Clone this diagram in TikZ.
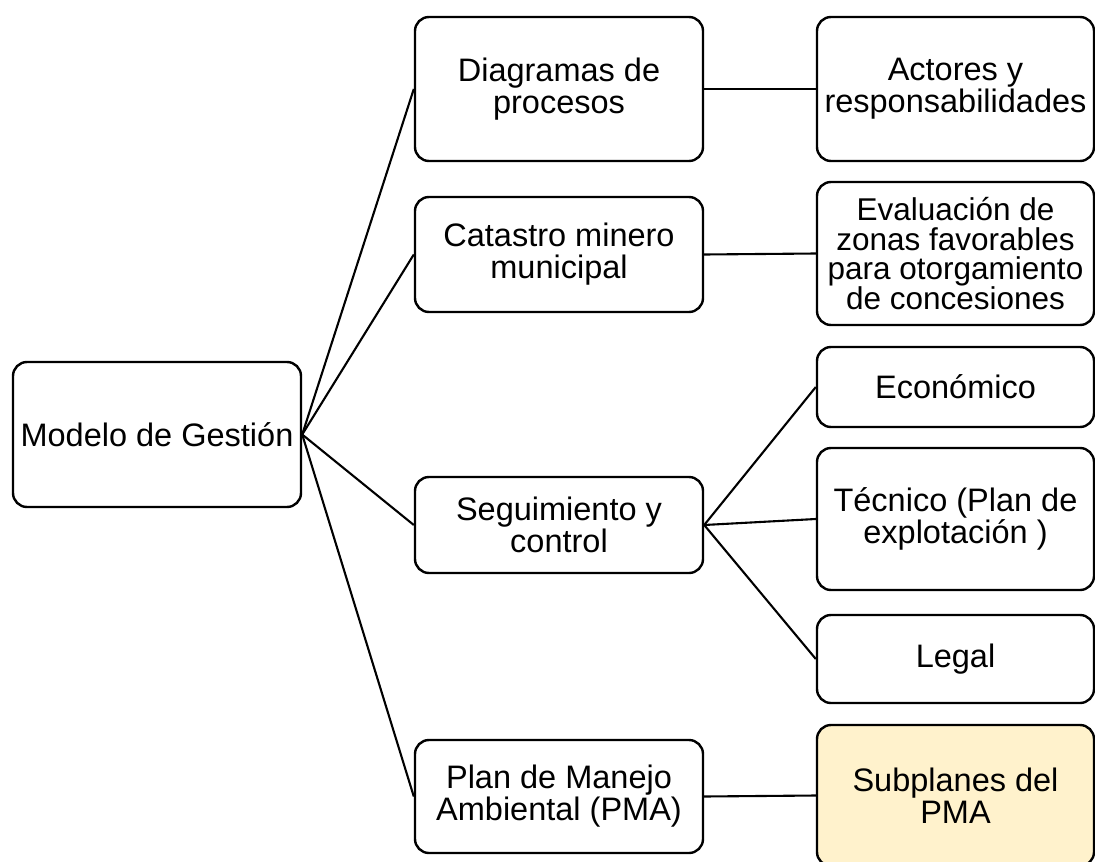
\documentclass[tikz,border=0pt]{standalone}
\usepackage{fontspec}
\setmainfont{Liberation Sans}
\definecolor{subfill}{HTML}{FFF2CC}
\begin{document}
\begin{tikzpicture}[x=1pt,y=-1pt,
  box/.style={draw=black,line width=2.4pt,rounded corners=14pt,inner sep=0pt,
    align=center,font=\fontsize{32.5}{32}\selectfont},
  link/.style={draw=black,line width=2.1pt}]
\useasboundingbox (0,0) rectangle (1095,862);
\node[box,minimum width=288pt,minimum height=145pt] (mg) at (157,434.5) {Modelo de Gestión};
\node[box,minimum width=288pt,minimum height=144pt] (dp) at (559,89) {Diagramas de\\procesos};
\node[box,minimum width=288pt,minimum height=115pt] (cm) at (559,254.5) {Catastro minero\\municipal};
\node[box,minimum width=288pt,minimum height=96pt] (sc) at (559,525) {Seguimiento y\\control};
\node[box,minimum width=288pt,minimum height=113pt] (pma) at (559,796.5) {Plan de Manejo\\Ambiental (PMA)};
\node[box,minimum width=277pt,minimum height=144pt] (ar) at (955.5,89) {Actores y\\responsabilidades};
\node[box,minimum width=277pt,minimum height=143pt,font=\fontsize{31.5}{29.5}\selectfont] (ev) at (955.5,253.5) {Evaluación de\\zonas favorables\\para otorgamiento\\de concesiones};
\node[box,minimum width=277pt,minimum height=80pt] (ec) at (955.5,387) {Económico};
\node[box,minimum width=277pt,minimum height=142pt] (te) at (955.5,519) {Técnico (Plan de\\explotación )};
\node[box,minimum width=277pt,minimum height=88pt] (le) at (955.5,659) {Legal};
\node[box,fill=subfill,minimum width=277pt,minimum height=141pt] (sub) at (955.5,795.5) {Subplanes del\\PMA};
\draw[link] (mg.east) -- (dp.west);
\draw[link] (mg.east) -- (cm.west);
\draw[link] (mg.east) -- (sc.west);
\draw[link] (mg.east) -- (pma.west);
\draw[link] (dp.east) -- (ar.west);
\draw[link] (cm.east) -- (ev.west);
\draw[link] (sc.east) -- (ec.west);
\draw[link] (sc.east) -- (te.west);
\draw[link] (sc.east) -- (le.west);
\draw[link] (pma.east) -- (sub.west);
\end{tikzpicture}
\end{document}
